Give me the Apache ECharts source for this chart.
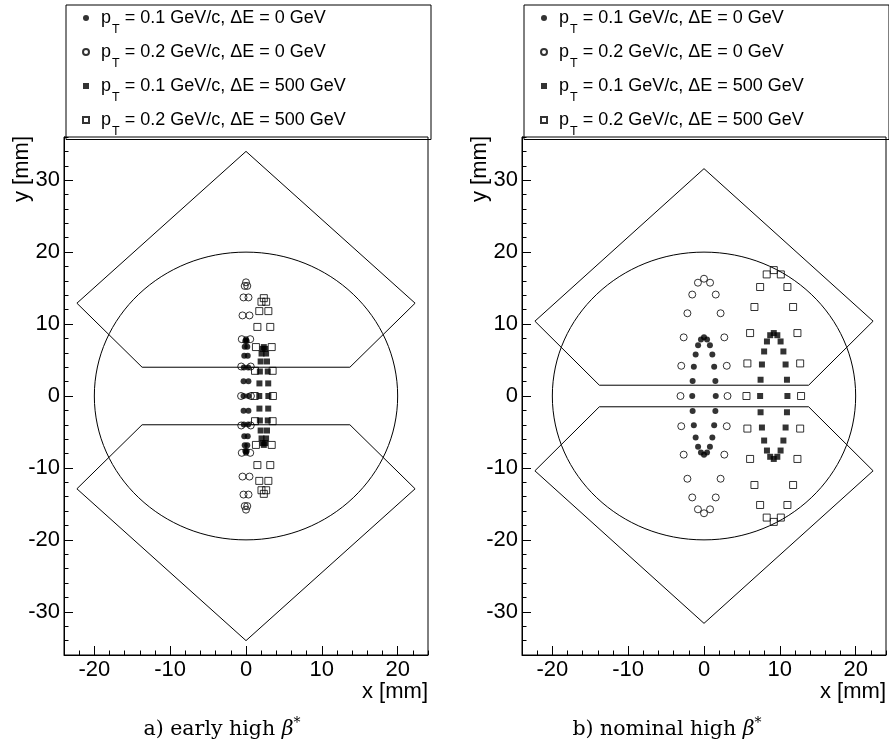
<!DOCTYPE html>
<html><head><meta charset="utf-8">
<script src="https://cdn.jsdelivr.net/npm/echarts@6/dist/echarts.min.js"></script>
<style>html,body{margin:0;padding:0;background:#fff}#c{width:889px;height:749px}</style>
</head><body><div id="c"></div>
<script>
// ---------- labels ----------
const seriesNames = ['pT = 0.1 GeV/c, ΔE = 0 GeV', 'pT = 0.2 GeV/c, ΔE = 0 GeV', 'pT = 0.1 GeV/c, ΔE = 500 GeV', 'pT = 0.2 GeV/c, ΔE = 500 GeV'];
const ptValues = ['0.1', '0.2', '0.1', '0.2'];
const dEValues = ['0', '0', '500', '500'];
const xMajorTicks = [-20, -10, 0, 10, 20];
const yMajorTicks = [-30, -20, -10, 0, 10, 20, 30];
const captions = ['a) early high ', 'b) nominal high '];
const xTitle = 'x [mm]';
const yTitle = 'y [mm]';

// ---------- panel a) early high beta* : [x mm, y mm] ----------
const aFilledCircles = [[0.33,0],[0.32,2.05],[0.29,3.95],[0.23,5.6],[0.17,6.85],[0.09,7.65],[0,7.9],[-0.09,7.65],[-0.17,6.85],[-0.23,5.6],[-0.29,3.95],[-0.32,2.05],[-0.33,0],[-0.32,-2.05],[-0.29,-3.95],[-0.23,-5.6],[-0.17,-6.85],[-0.09,-7.65],[0,-7.9],[0.09,-7.65],[0.17,-6.85],[0.23,-5.6],[0.29,-3.95],[0.32,-2.05]];
const aOpenCircles = [[0.65,0],[0.63,4.1],[0.56,7.9],[0.46,11.2],[0.33,13.7],[0.17,15.3],[0,15.8],[-0.17,15.3],[-0.33,13.7],[-0.46,11.2],[-0.56,7.9],[-0.63,4.1],[-0.65,0],[-0.63,-4.1],[-0.56,-7.9],[-0.46,-11.2],[-0.33,-13.7],[-0.17,-15.3],[0,-15.8],[0.17,-15.3],[0.33,-13.7],[0.46,-11.2],[0.56,-7.9],[0.63,-4.1]];
const aFilledSquares = [[2.95,0],[2.93,1.75],[2.87,3.4],[2.77,4.8],[2.65,5.9],[2.51,6.55],[2.35,6.8],[2.19,6.55],[2.05,5.9],[1.93,4.8],[1.83,3.4],[1.77,1.75],[1.75,0],[1.77,-1.75],[1.83,-3.4],[1.93,-4.8],[2.05,-5.9],[2.19,-6.55],[2.35,-6.8],[2.51,-6.55],[2.65,-5.9],[2.77,-4.8],[2.87,-3.4],[2.93,-1.75]];
const aOpenSquares = [[3.55,0],[3.51,3.5],[3.39,6.8],[3.2,9.6],[2.95,11.8],[2.66,13.1],[2.35,13.6],[2.04,13.1],[1.75,11.8],[1.5,9.6],[1.31,6.8],[1.19,3.5],[1.15,0],[1.19,-3.5],[1.31,-6.8],[1.5,-9.6],[1.75,-11.8],[2.04,-13.1],[2.35,-13.6],[2.66,-13.1],[2.95,-11.8],[3.2,-9.6],[3.39,-6.8],[3.51,-3.5]];
const aUpperAperture = [[-13.7,4],[-22.3,12.9],[0,34],[22.3,12.9],[13.7,4],[-13.7,4]];
const aLowerAperture = [[-13.7,-4],[-22.3,-12.9],[0,-34],[22.3,-12.9],[13.7,-4],[-13.7,-4]];

// ---------- panel b) nominal high beta* ----------
const bFilledCircles = [[1.55,0],[1.5,2.1],[1.34,4.08],[1.1,5.76],[0.78,7.05],[0.4,7.87],[0,8.15],[-0.4,7.87],[-0.78,7.05],[-1.1,5.76],[-1.34,4.08],[-1.5,2.1],[-1.55,0],[-1.5,-2.1],[-1.34,-4.08],[-1.1,-5.76],[-0.78,-7.05],[-0.4,-7.87],[0,-8.15],[0.4,-7.87],[0.78,-7.05],[1.1,-5.76],[1.34,-4.08],[1.5,-2.1]];
const bOpenCircles = [[3.1,0],[3.0,4.2],[2.68,8.15],[2.19,11.5],[1.55,14.1],[0.8,15.75],[0,16.3],[-0.8,15.75],[-1.55,14.1],[-2.19,11.5],[-2.68,8.15],[-3.0,4.2],[-3.1,0],[-3.0,-4.2],[-2.68,-8.15],[-2.19,-11.5],[-1.55,-14.1],[-0.8,-15.75],[0,-16.3],[0.8,-15.75],[1.55,-14.1],[2.19,-11.5],[2.68,-8.15],[3.0,-4.2]];
const bFilledSquares = [[11.0,0],[10.94,2.26],[10.76,4.38],[10.47,6.19],[10.1,7.58],[9.67,8.45],[9.2,8.75],[8.73,8.45],[8.3,7.58],[7.93,6.19],[7.64,4.38],[7.46,2.26],[7.4,0],[7.46,-2.26],[7.64,-4.38],[7.93,-6.19],[8.3,-7.58],[8.73,-8.45],[9.2,-8.75],[9.67,-8.45],[10.1,-7.58],[10.47,-6.19],[10.76,-4.38],[10.94,-2.26]];
const bOpenSquares = [[12.8,0],[12.68,4.53],[12.32,8.75],[11.75,12.37],[11.0,15.15],[10.13,16.9],[9.2,17.5],[8.27,16.9],[7.4,15.15],[6.65,12.37],[6.08,8.75],[5.72,4.53],[5.6,0],[5.72,-4.53],[6.08,-8.75],[6.65,-12.37],[7.4,-15.15],[8.27,-16.9],[9.2,-17.5],[10.13,-16.9],[11.0,-15.15],[11.75,-12.37],[12.32,-8.75],[12.68,-4.53]];
const bUpperAperture = [[-13.8,1.5],[-22.3,10.4],[0,31.6],[22.3,10.4],[13.8,1.5],[-13.8,1.5]];
const bLowerAperture = [[-13.8,-1.5],[-22.3,-10.4],[0,-31.6],[22.3,-10.4],[13.8,-1.5],[-13.8,-1.5]];

// beam pipe circle: [centerX, centerY, radius] in mm
const beamPipe = [[0, 0, 20]];

const panels = [
  {left: 64, capX: 222, pts: [aFilledCircles, aOpenCircles, aFilledSquares, aOpenSquares], ap: [aUpperAperture, aLowerAperture]},
  {left: 522, capX: 667, pts: [bFilledCircles, bOpenCircles, bFilledSquares, bOpenSquares], ap: [bUpperAperture, bLowerAperture]}
];

const SANS = 'Liberation Sans';
const markerStyles = [
  {symbol: 'circle', symbolSize: 6, itemStyle: {color: '#000'}},
  {symbol: 'circle', symbolSize: 7, itemStyle: {color: 'rgba(0,0,0,0)', borderColor: '#000', borderWidth: 1}},
  {symbol: 'rect', symbolSize: 6, itemStyle: {color: '#000'}},
  {symbol: 'rect', symbolSize: 7, itemStyle: {color: 'rgba(0,0,0,0)', borderColor: '#000', borderWidth: 1}}
];

const grids = [], xAxes = [], yAxes = [], series = [], legends = [], graphics = [];
const black = {color: '#000', width: 1};

panels.forEach((p, gi) => {
  grids.push({left: p.left, top: 137, width: 364, height: 518, show: true, borderColor: '#000', borderWidth: 1, backgroundColor: 'rgba(0,0,0,0)'});
  // minor-tick axes
  xAxes.push({type: 'value', gridIndex: gi, min: -24, max: 24, interval: 2, position: 'bottom',
    axisLine: {show: true, onZero: false, lineStyle: black}, axisTick: {show: true, inside: true, length: 4.5, lineStyle: black},
    axisLabel: {show: false}, splitLine: {show: false}});
  yAxes.push({type: 'value', gridIndex: gi, min: -36, max: 36, interval: 2, position: 'left',
    axisLine: {show: true, onZero: false, lineStyle: black}, axisTick: {show: true, inside: true, length: 4.5, lineStyle: black},
    axisLabel: {show: false}, splitLine: {show: false}});
  // major-tick + label axes
  xAxes.push({type: 'value', gridIndex: gi, min: -24, max: 24, position: 'bottom',
    axisLine: {show: false, onZero: false}, axisTick: {show: true, inside: true, length: 9, lineStyle: black, customValues: xMajorTicks},
    axisLabel: {show: true, customValues: xMajorTicks, margin: 4, color: '#000', fontFamily: SANS, fontSize: 22},
    splitLine: {show: false}});
  yAxes.push({type: 'value', gridIndex: gi, min: -36, max: 36, position: 'left',
    axisLine: {show: false, onZero: false}, axisTick: {show: true, inside: true, length: 9, lineStyle: black, customValues: yMajorTicks},
    axisLabel: {show: true, customValues: yMajorTicks, margin: 4, color: '#000', fontFamily: SANS, fontSize: 22},
    splitLine: {show: false}});

  const xi = gi * 2 + 1, yi = gi * 2 + 1;
  // beam pipe circle
  series.push({type: 'custom', name: 'beam pipe ' + gi, xAxisIndex: xi, yAxisIndex: yi, data: beamPipe, silent: true, z: 1,
    renderItem: (params, api) => {
      const c = api.coord([api.value(0), api.value(1)]);
      const s = api.size([api.value(2), api.value(2)]);
      return {type: 'ellipse', shape: {cx: c[0], cy: c[1], rx: s[0], ry: s[1]}, style: {fill: 'none', stroke: '#000', lineWidth: 1}};
    }});
  p.ap.forEach((poly, k) => {
    series.push({type: 'line', name: 'aperture ' + gi + k, xAxisIndex: xi, yAxisIndex: yi, data: poly, symbol: 'none',
      lineStyle: {color: '#000', width: 1}, silent: true, z: 1, animation: false});
  });
  p.pts.forEach((d, k) => {
    series.push(Object.assign({type: 'scatter', name: seriesNames[k], xAxisIndex: xi, yAxisIndex: yi, data: d, z: 3}, markerStyles[k]));
  });

  legends.push({show: true, orient: 'vertical', left: p.left + 18, top: 0, padding: 0, itemGap: -2, itemWidth: 6, itemHeight: 6,
    selectedMode: false, data: seriesNames,
    formatter: name => { const i = seriesNames.indexOf(name); return '{p|p}{s|T}{m| = ' + ptValues[i] + ' GeV/c, ΔE = ' + dEValues[i] + ' GeV}'; },
    textStyle: {color: '#000', fontFamily: SANS, fontSize: 18,
      rich: {
        p: {fontFamily: SANS, fontSize: 18, lineHeight: 22, color: '#000', padding: [0, 0, 0, 7]},
        s: {fontFamily: SANS, fontSize: 12.5, lineHeight: 10, color: '#000', padding: [23, 0, 0, 1]},
        m: {fontFamily: SANS, fontSize: 18, lineHeight: 22, color: '#000'}
      }}});

  // legend frame
  graphics.push({type: 'rect', left: p.left - 0.5, top: 2.5, shape: {x: 0, y: 0, width: 365, height: 134.5}, style: {fill: 'none', stroke: '#000', lineWidth: 1}, silent: true});
  // axis titles
  graphics.push({type: 'text', x: p.left + 364, y: 692, silent: true,
    style: {text: xTitle, align: 'right', verticalAlign: 'middle', fontFamily: SANS, fontSize: 22, fill: '#000'}});
  graphics.push({type: 'text', x: p.left - 42, y: 136, rotation: Math.PI / 2, silent: true,
    style: {text: yTitle, align: 'right', verticalAlign: 'middle', fontFamily: SANS, fontSize: 22, fill: '#000'}});
  // caption
  graphics.push({type: 'text', x: p.capX, y: 730, silent: true,
    style: {text: '{n|' + captions[gi] + '}{b|β}{c|*}', align: 'center', verticalAlign: 'middle',
      rich: {
        n: {fontFamily: 'DejaVu Serif', fontSize: 20.5, fill: '#000', lineHeight: 24},
        b: {fontFamily: 'DejaVu Serif', fontStyle: 'italic', fontSize: 20.5, fill: '#000', lineHeight: 24},
        c: {fontFamily: 'DejaVu Serif', fontSize: 14, fill: '#000', lineHeight: 10, padding: [0, 0, 14, 0]}
      }}});
});

const chart = echarts.init(document.getElementById('c'), null, {renderer: 'canvas'});
chart.setOption({
  backgroundColor: '#fff',
  animation: false,
  grid: grids, xAxis: xAxes, yAxis: yAxes, series: series, legend: legends, graphic: graphics
});
</script></body></html>
